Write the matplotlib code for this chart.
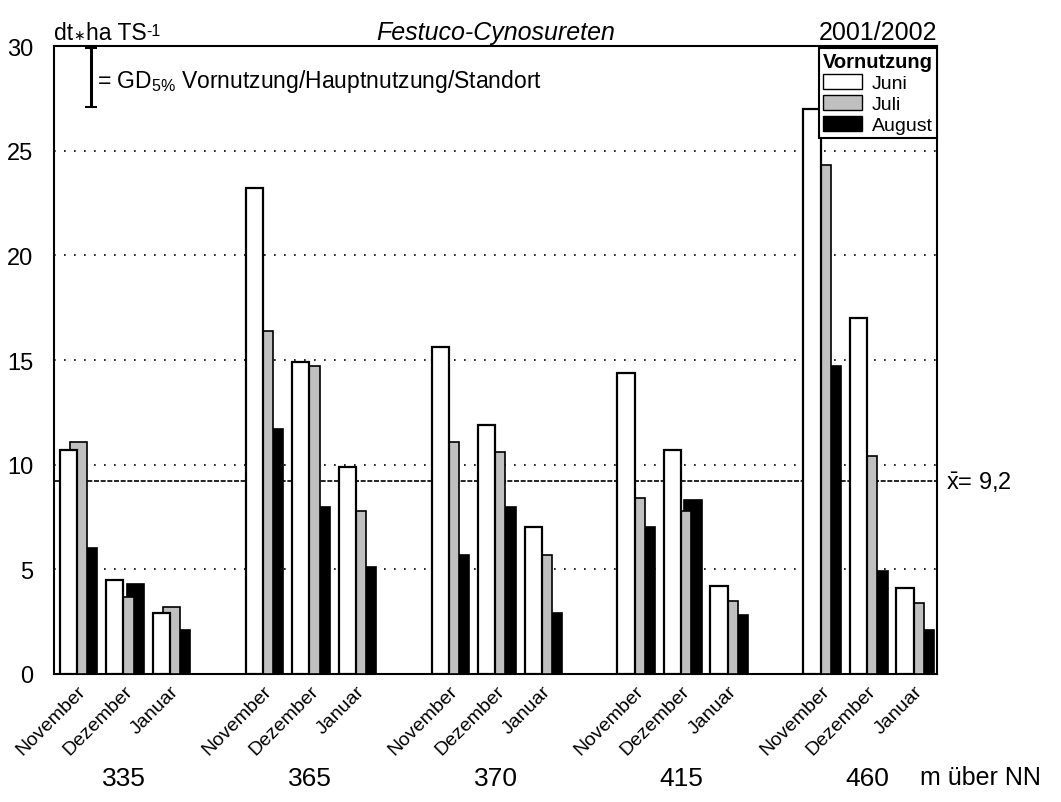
import numpy as np
import matplotlib.pyplot as plt

plt.rcParams['font.family'] = ['Liberation Sans', 'DejaVu Sans']
plt.rcParams['mathtext.fontset'] = 'custom'
plt.rcParams['mathtext.rm'] = 'Liberation Sans'
plt.rcParams['mathtext.it'] = 'Liberation Sans:italic'
plt.rcParams['mathtext.bf'] = 'Liberation Sans:bold'

# Standorte (m ueber NN) und Hauptnutzung
sites = ['335', '365', '370', '415', '460']
months = ['November', 'Dezember', 'Januar']
# Ertrag dt*ha TS^-1 je Vornutzung, Reihenfolge: Standort x Monat
juni = [10.7, 4.5, 2.9,  23.2, 14.9, 9.9,  15.6, 11.9, 7.0,  14.4, 10.7, 4.2,  27.0, 17.0, 4.1]
juli = [11.1, 3.7, 3.2,  16.4, 14.7, 7.8,  11.1, 10.6, 5.7,  8.4, 7.8, 3.5,  24.3, 10.4, 3.4]
august = [6.0, 4.3, 2.1,  11.7, 8.0, 5.1,  5.7, 8.0, 2.9,  7.0, 8.3, 2.8,  14.7, 4.9, 2.1]
mean_val = 9.2
gd5 = 2.8

# Positionen: 3 Monate + 1 Leerplatz je Standort
pos = np.array([4 * s + m for s in range(len(sites)) for m in range(3)])

fig = plt.figure(figsize=(10.61, 8.03), dpi=100)
ax = fig.add_axes([54 / 1061, 1 - 675 / 803, (937 - 54) / 1061, (675 - 47) / 803])

w = 0.37
ax.bar(pos + 0.25, august, w, color='black', edgecolor='black', linewidth=1.2, zorder=2)
ax.bar(pos + 0.03, juli, w, color='#c0c0c0', edgecolor='black', linewidth=1.2, zorder=3)
ax.bar(pos - 0.19, juni, w, color='white', edgecolor='black', linewidth=1.6, zorder=4)

# Hilfslinien
for yv in [5, 10, 15, 20, 25]:
    ax.axhline(yv, color='black', linestyle=(0, (1, 5)), linewidth=1.2, zorder=1)
ax.axhline(mean_val, color='black', linestyle=(0, (3, 1)), linewidth=1.2, zorder=1)

ax.set_xlim(-0.5, 18.5)
ax.set_ylim(0, 30)
ax.set_yticks([0, 5, 10, 15, 20, 25, 30])
ax.tick_params(axis='y', length=0, labelsize=17, pad=15)
ax.set_xticks(pos)
ax.set_xticklabels(months * len(sites), rotation=45, ha='right', rotation_mode='anchor')
ax.tick_params(axis='x', length=0, labelsize=14, pad=6)
for sp in ax.spines.values():
    sp.set_linewidth(1.5)

# GD-Balken
ax.errorbar([0.3], [30 - gd5 / 2 - 0.1], yerr=gd5 / 2, color='black', capsize=4,
            elinewidth=2.2, capthick=1.5)
ax.text(0.42, 28.35, '= GD$_{5\\%}$ Vornutzung/Hauptnutzung/Standort', fontsize=16.5, va='center')

# Einheit: dt*ha TS^-1
t1 = fig.text(54 / 1061, 1 - 34 / 803, 'dt', fontsize=16.5, va='center', ha='left')
t2 = ax.annotate('\u2217', xy=(1, 0.42), xycoords=t1, fontsize=10, va='center', ha='left',
                 family=['DejaVu Sans'])
t3 = ax.annotate('ha TS', xy=(1, 0), xycoords=t1, xytext=(9, 0), textcoords='offset points',
                 fontsize=16.5, va='bottom', ha='left')
ax.annotate('-1', xy=(1, 0.95), xycoords=t3, fontsize=11.5, va='top', ha='left')

fig.text((54 + 937) / 2 / 1061, 1 - 33 / 803, 'Festuco-Cynosureten', fontsize=18,
         style='italic', ha='center', va='center')
fig.text(937 / 1061, 1 - 33 / 803, '2001/2002', fontsize=18, va='center', ha='right')
ax.text(1.01, mean_val, '$\\bar{\\mathrm{x}}$= 9,2', transform=ax.get_yaxis_transform(),
        fontsize=17, va='center', ha='left')

for i, s in enumerate(sites):
    ax.text(4 * i + 1, -0.165, s, transform=ax.get_xaxis_transform(),
            fontsize=19, ha='center', va='center')
fig.text(920 / 1061, 1 - 778 / 803, 'm über NN', fontsize=18, ha='left', va='center')

handles = [plt.Rectangle((0, 0), 1, 1, facecolor=c, edgecolor='black', linewidth=1)
           for c in ['white', '#c0c0c0', 'black']]
leg = ax.legend(handles, ['Juni', 'Juli', 'August'], title='Vornutzung', loc='upper right',
                bbox_to_anchor=(1.0, 0.997), borderaxespad=0, fancybox=False,
                edgecolor='black', framealpha=1, fontsize=14,
                title_fontproperties={'weight': 'bold', 'size': 14.5},
                handlelength=2.0, handleheight=0.8, handletextpad=0.5, labelspacing=0.15,
                borderpad=0.2, alignment='left')
leg.get_frame().set_linewidth(1.5)
leg.set_zorder(10)

fig.savefig('out.png', dpi=100)
